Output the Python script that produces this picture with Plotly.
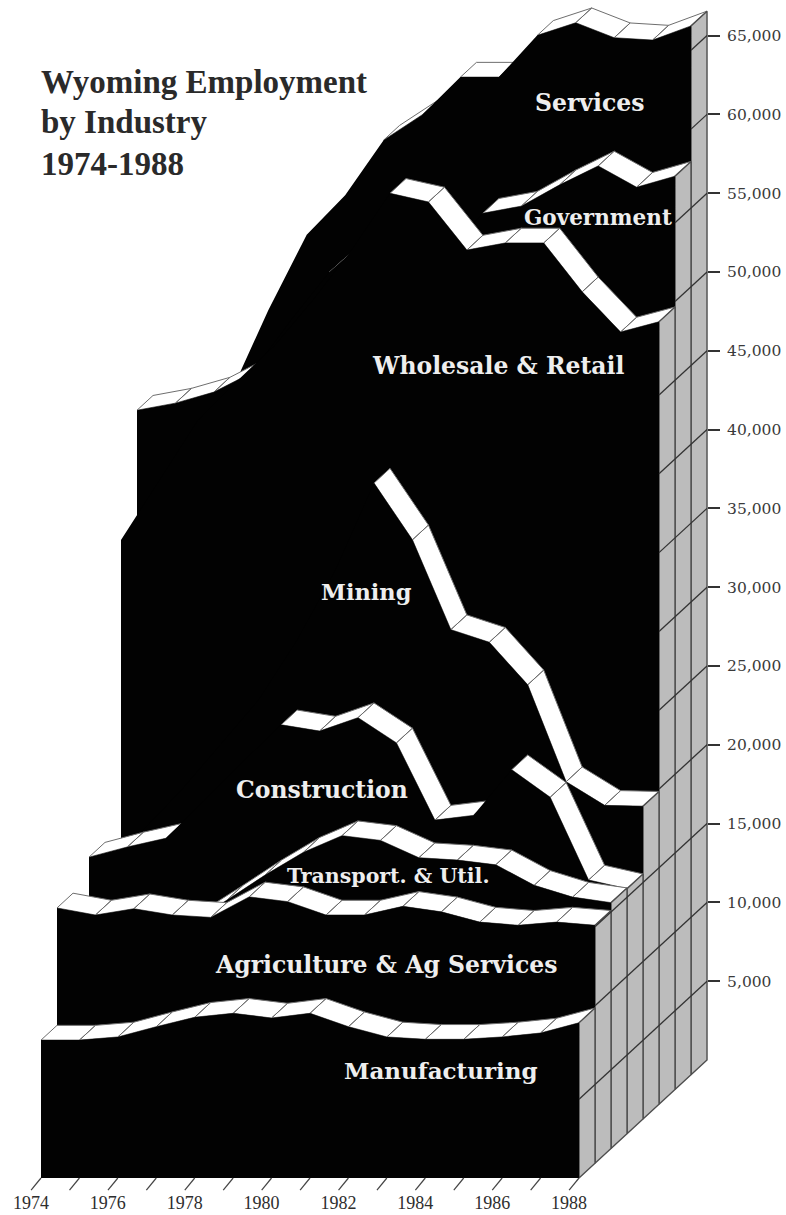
import plotly.graph_objects as go

# ---- data (employment) ----
years = list(range(1974, 1989))
manufacturing = [8750, 8750, 8950, 9600, 10200, 10450, 10150, 10450, 9600, 8950, 8800, 8800, 8950, 9200, 9850]
agriculture = [16200, 15750, 16150, 15750, 15600, 16900, 16600, 15750, 15750, 16300, 15950, 15300, 15100, 15300, 15100]
transport = [14200, 14200, 14200, 14200, 15750, 17350, 18800, 19850, 19550, 18450, 18300, 18000, 16700, 15950, 15600]
construction = [17550, 18200, 18750, 21150, 23600, 25950, 25550, 26400, 24800, 19900, 20200, 23100, 21350, 16100, 15550]
mining = [15800, 18350, 20900, 23750, 26600, 30400, 34850, 40350, 36750, 31050, 30250, 27550, 21400, 19900, 19850]
wholesale = [35800, 39600, 43400, 45850, 48150, 51050, 54200, 57800, 57250, 54200, 54650, 54650, 51550, 49000, 49650]
government = [43100, 43550, 44250, 45500, 48800, 51850, 54000, 53350, 53000, 55600, 56050, 57400, 58600, 57250, 57950]
services = [40300, 41550, 43150, 48500, 53300, 55800, 59300, 60900, 63300, 63300, 65950, 66750, 65800, 65650, 66550]

series_order = [manufacturing, agriculture, transport, construction, mining, wholesale, government, services]
grid_values = [5000, 10000, 15000, 20000, 25000, 30000, 35000, 40000, 45000, 50000, 55000, 60000, 65000]
year_ticks = [1974, 1976, 1978, 1980, 1982, 1984, 1986, 1988]
labels = ["Services", "Government", "Wholesale & Retail", "Mining", "Construction",
          "Transport. & Util.", "Agriculture & Ag Services", "Manufacturing"]

# ---- oblique projection: each industry sits one step deeper than the one before ----
PX_PER_YEAR = 38.43
PX_PER_UNIT = 1 / 63.45
DEPTH_PX_X, DEPTH_PX_Y = 16.0, 14.75
DX = DEPTH_PX_X / PX_PER_YEAR      # years per depth step
DY = DEPTH_PX_Y / PX_PER_UNIT      # employment per depth step
LEFT_PX, BASE_PX = 41, 1178
W, H = 786, 1215
x_range = [1974 - LEFT_PX / PX_PER_YEAR, 1974 + (W - LEFT_PX) / PX_PER_YEAR]
y_range = [-(H - BASE_PX) / PX_PER_UNIT, BASE_PX / PX_PER_UNIT]
HIDE_SLOPE = DY / DX               # a top steeper than this is behind its own face


def px(year, d):
    return year + d * DX


def py(value, d):
    return value + d * DY


fig = go.Figure()


def polygons(polys, fill, line_color=None, line_width=0):
    xs, ys = [], []
    for poly in polys:
        for a, b in poly:
            xs.append(a)
            ys.append(b)
        xs.append(poly[0][0])
        ys.append(poly[0][1])
        xs.append(None)
        ys.append(None)
    fig.add_trace(go.Scatter(
        x=xs, y=ys, mode="lines", fill="toself", fillcolor=fill,
        line=dict(color=line_color or fill, width=line_width),
        hoverinfo="skip", showlegend=False, xaxis="x", yaxis="y"))


RIBBON_LINE = "#6e6e6e"
WALL_FILL = "#bcbcbc"
WALL_LINE = "#4d4d4d"
end = years[-1]

for d in range(len(series_order) - 1, -1, -1):
    vals = series_order[d]
    # top ribbon
    quads = []
    for i in range(len(years) - 1):
        if vals[i + 1] - vals[i] >= HIDE_SLOPE:
            continue
        y0, y1 = years[i], years[i + 1]
        v0, v1 = vals[i], vals[i + 1]
        quads.append([(px(y0, d), py(v0, d)), (px(y1, d), py(v1, d)),
                      (px(y1, d + 1), py(v1, d + 1)), (px(y0, d + 1), py(v0, d + 1))])
    polygons(quads, "#ffffff", RIBBON_LINE, 1)
    # side wall at the right-hand end
    polygons([[(px(end, d), py(0, d)), (px(end, d + 1), py(0, d + 1)),
               (px(end, d + 1), py(vals[-1], d + 1)), (px(end, d), py(vals[-1], d))]],
             WALL_FILL, WALL_LINE, 1.4)
    # front face
    face = [(px(years[0], d), py(0, d))]
    face += [(px(y, d), py(v, d)) for y, v in zip(years, vals)]
    face += [(px(end, d), py(0, d))]
    polygons([face], "#020202")

# grid lines running along the side walls
gx, gy = [], []
for value in grid_values:
    for d in range(len(series_order)):
        if value <= series_order[d][-1]:
            gx += [px(end, d), px(end, d + 1), None]
            gy += [py(value, d), py(value, d + 1), None]
fig.add_trace(go.Scatter(x=gx, y=gy, mode="lines", line=dict(color="#333333", width=1.3),
                         hoverinfo="skip", showlegend=False))

# slanted year ticks below the front edge and the front base line
tx, ty = [], []
for y in years:
    tx += [px(y, 0), px(y, -0.62), None]
    ty += [py(0, 0), py(0, -0.82), None]
fig.add_trace(go.Scatter(x=tx, y=ty, mode="lines", line=dict(color="#444444", width=1.2),
                         hoverinfo="skip", showlegend=False))

fig.add_trace(go.Scatter(x=[None], y=[None], yaxis="y2", showlegend=False, hoverinfo="skip"))


def to_x(p):
    return x_range[0] + p / W * (x_range[1] - x_range[0])


def to_y(p):
    return (BASE_PX - p) / PX_PER_UNIT


label_centres = [(589, 103), (598, 217), (498, 366), (366, 592), (322, 790), (388, 876), (386, 965), (441, 1070)]
label_sizes = [23.5, 21.5, 23.5, 22.5, 23.5, 20.5, 23.5, 23]
annotations = []
for text, (cx, cy), size in zip(labels, label_centres, label_sizes):
    annotations.append(dict(x=to_x(cx), y=to_y(cy), xref="x", yref="y", text="<b>%s</b>" % text,
                            showarrow=False, font=dict(family="DejaVu Serif", size=size, color="#eeeeee")))

for text, cy in zip(["Wyoming Employment", "by Industry", "1974-1988"], [82, 122, 164]):
    annotations.append(dict(x=to_x(39), y=to_y(cy), xref="x", yref="y", xanchor="left", text="<b>%s</b>" % text,
                            showarrow=False, font=dict(family="Liberation Serif", size=33, color="#2a2a2a")))

fig.update_layout(
    width=W, height=H, autosize=False, margin=dict(l=0, r=0, t=0, b=0, pad=0),
    paper_bgcolor="#ffffff", plot_bgcolor="rgba(0,0,0,0)", showlegend=False,
    annotations=annotations,
    xaxis=dict(domain=[0, 1], range=x_range, showgrid=False, zeroline=False, showline=False,
               anchor="free", position=(H - BASE_PX) / H,
               tickmode="array", tickvals=year_ticks, ticktext=[str(y) for y in year_ticks],
               ticks="", ticklabelshift=-10, ticklabelstandoff=12,
               tickfont=dict(family="Liberation Serif", size=18, color="#2e2e2e")),
    yaxis=dict(domain=[0, 1], range=y_range, visible=False, fixedrange=True),
    yaxis2=dict(domain=[0, 1], overlaying="y", side="right", anchor="free",
                position=(W - 79) / W,
                range=[y_range[0] - 8 * DY, y_range[1] - 8 * DY], showgrid=False, zeroline=False, showline=False,
                tickmode="array", tickvals=grid_values, tickformat=",d", ticks="outside", ticklen=12,
                tickwidth=2, tickcolor="#333333", ticklabelstandoff=4,
                tickfont=dict(family="DejaVu Serif", size=15.5, color="#3a3a3a")),
)

fig.write_html("out.html", post_script="document.body.style.margin='0';",
               config={"displayModeBar": False})
